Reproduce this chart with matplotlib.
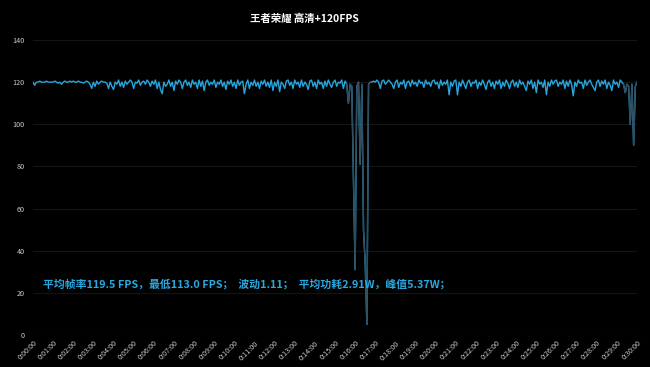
import numpy as np
import matplotlib.pyplot as plt

plt.rcParams['font.family'] = ['Noto Sans CJK SC', 'DejaVu Sans']

# 帧率数据, 每 5 秒一个点 (0:00:00 - 0:30:00)
fps = [
    120, 118.5, 120, 120, 120.5, 120, 120, 120, 120.5, 120, 120, 120,
    120, 120.5, 120, 119.5, 120, 119, 120, 120.5, 120, 120, 120.5, 120,
    120.5, 120, 120, 120.5, 120, 120, 119.5, 120, 120.5, 120, 119, 117,
    120, 118, 120.5, 119, 120, 120.5, 120, 120, 119.5, 117, 120, 118,
    116.5, 120, 119, 121, 118, 120, 117.5, 120.5, 119, 120, 121, 120,
    117, 120, 119.5, 121, 118.5, 120, 120.5, 119, 121, 120, 118, 120.5,
    119, 121, 117, 120, 116.5, 114.5, 120, 118, 119, 121, 118, 120,
    116, 120.5, 119, 121, 120, 117, 120, 121, 118.5, 120, 117.5, 121,
    119, 120, 117, 121, 118, 120.5, 116, 120, 121, 118.5, 120, 119,
    121, 117.5, 120, 119, 121, 118, 120, 116.5, 120.5, 119, 121, 118,
    120, 117, 121, 118.5, 120, 120.5, 114.5, 119, 121, 117, 120, 118.5,
    121, 118, 120, 117, 120.5, 119, 121, 118, 120, 117.5, 121, 116,
    120, 118, 121, 115.5, 120, 119, 117, 120.5, 121, 118.5, 120, 117,
    121, 119, 120, 117.5, 121, 118, 120, 119, 116.5, 120.5, 121, 118,
    120, 117, 121, 119, 120, 117, 120.5, 118, 121, 119, 117.5, 120,
    121, 118, 120, 119.5, 121, 117, 120.5, 119, 110, 119, 118, 74,
    31, 118, 120, 81, 119, 50, 34, 5, 119, 120, 120, 120.5,
    120, 121, 120, 117, 120.5, 121, 119, 120, 121, 120, 119, 117,
    120, 121, 117.5, 120, 119, 121, 117, 120, 120.5, 118, 121, 119,
    120, 118, 121, 119.5, 120, 117.5, 121, 119, 120, 118, 120.5, 121,
    119, 120, 117, 121, 118.5, 120, 119, 121, 114, 120, 118, 120.5,
    121, 114, 120, 118, 121, 119, 117, 120, 121, 118, 120, 119.5,
    121, 117, 120, 118.5, 121, 119, 116.5, 120, 121, 118, 120, 117,
    120.5, 119, 121, 117, 120, 118, 121, 119.5, 117, 120, 121, 118,
    120, 117.5, 121, 119, 120, 118, 116, 120.5, 119, 121, 117, 120,
    115, 121, 119, 120, 117.5, 121, 114, 120, 118, 121, 119, 120.5,
    121, 118, 120, 119, 121, 117, 120.5, 118, 121, 119, 113.5, 120,
    118, 121, 119.5, 120, 117, 121, 118.5, 120, 121, 119, 117.5, 116,
    120, 121, 118, 120.5, 119, 121, 117, 120, 118.5, 116, 121, 119,
    120, 117.5, 121, 120, 119, 115, 119, 118, 100, 119, 90, 118,
    120,
]
t = np.arange(len(fps)) * 5
fps = np.array(fps, dtype=float)

# 暗色显示的时间段 (秒)
dark_ranges = [(935, 1005), (1760, 1800)]

x_ticks = np.arange(0, 1801, 60)
x_labels = ['0:%02d:00' % (s // 60) for s in x_ticks]

title = '王者荣耀 高清+120FPS'
note = '平均帧率119.5 FPS，最低113.0 FPS；  波动1.11；  平均功耗2.91W，峰值5.37W；'

fig = plt.figure(figsize=(6.5, 3.67), dpi=100, facecolor='black')
ax = fig.add_axes([33/650, 1-335/367, (637-33)/650, (335-40)/367])
ax.set_facecolor('black')

ax.plot(t, fps, color='#27a6de', lw=1.0)
for a, b in dark_ranges:
    m = (t >= a) & (t <= b)
    ax.plot(t[m], fps[m], color='#2f4d5e', lw=1.0)

ax.set_xlim(0, 1800)
ax.set_ylim(0, 140)
ax.set_yticks(np.arange(0, 141, 20))
ax.set_xticks(x_ticks)
ax.set_xticklabels(x_labels, rotation=45, ha='right', rotation_mode='anchor')
ax.tick_params(axis='both', length=0, colors='#cccccc', labelsize=5.2)
ax.tick_params(axis='y', pad=6)
ax.tick_params(axis='x', pad=3)
ax.grid(axis='y', color='#141414', lw=0.8)
ax.set_axisbelow(True)
for s in ax.spines.values():
    s.set_visible(False)

fig.text(304/650, 1-19/367, title, color='white', fontsize=7.5, fontweight='bold',
         ha='center', va='center')
fig.text(43/650, 1-284/367, note, color='#2aa8e0', fontsize=7.8,
         fontweight='bold', ha='left', va='center')

fig.savefig('out.png', dpi=100, facecolor='black')
